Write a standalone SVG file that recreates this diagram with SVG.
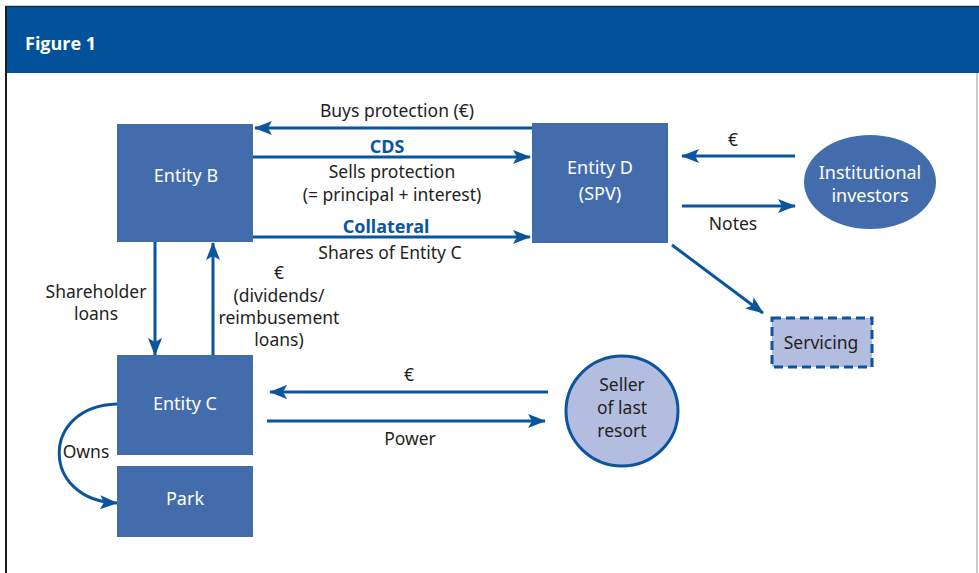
<svg xmlns="http://www.w3.org/2000/svg" width="979" height="573" viewBox="0 0 979 573">
  <style>
    .box { fill: #436cad; }
    .lbl { font-family: "Noto Sans", "Open Sans", sans-serif; font-size: 17.5px; fill: #231f20; text-anchor: middle; }
    .node { font-family: "Noto Sans", "Open Sans", sans-serif; font-size: 18px; fill: #ffffff; text-anchor: middle; }
    .key { font-family: "Noto Sans", "Open Sans", sans-serif; font-size: 18px; font-weight: bold; fill: #0b559f; text-anchor: middle; }
    .flow { stroke: #0b559f; stroke-width: 3; fill: none; marker-end: url(#head); }
  </style>
  <defs>
    <marker id="head" markerUnits="userSpaceOnUse" markerWidth="18" markerHeight="14" viewBox="0 0 18 14" refX="17" refY="7" orient="auto">
      <path d="M0,0 L18,7 L0,14 L4,7 Z" fill="#0b559f"/>
    </marker>
  </defs>

  <!-- frame and title band -->
  <rect x="0" y="0" width="979" height="573" fill="#ffffff"/>
  <rect x="6" y="7" width="973" height="66" fill="#02519b"/>
  <line x1="977" y1="73" x2="977" y2="573" stroke="#b8b8b8" stroke-width="1.5"/>
  <line x1="6" y1="6" x2="6" y2="573" stroke="#1a1a1a" stroke-width="2"/>
  <line x1="5" y1="6.5" x2="979" y2="6.5" stroke="#1a2a40" stroke-width="1.5"/>
  <text x="25" y="50" font-family="'Open Sans', 'Noto Sans', sans-serif" font-size="18" font-weight="bold" fill="#ffffff">Figure 1</text>

  <!-- connectors -->
  <g id="connectors">
    <line class="flow" x1="533" y1="128" x2="255" y2="128"/>
    <line class="flow" x1="253" y1="157" x2="530" y2="157"/>
    <line class="flow" x1="253" y1="237" x2="530" y2="237"/>
    <line class="flow" x1="795" y1="156" x2="682" y2="156"/>
    <line class="flow" x1="682" y1="206" x2="795" y2="206"/>
    <line class="flow" x1="672" y1="245" x2="763" y2="313"/>
    <line class="flow" x1="155" y1="242" x2="155" y2="355"/>
    <line class="flow" x1="213" y1="355" x2="213" y2="243"/>
    <line class="flow" x1="548" y1="392" x2="270" y2="392"/>
    <line class="flow" x1="267" y1="421" x2="545" y2="421"/>
    <path class="flow" d="M117,404 C40,406 40,500 117,503"/>

    <text class="lbl" x="397" y="117">Buys protection (€)</text>
    <text class="key" x="387" y="153">CDS</text>
    <text class="lbl" x="392" y="178">Sells protection</text>
    <text class="lbl" x="392" y="200.5">(= principal + interest)</text>
    <text class="key" x="386" y="233">Collateral</text>
    <text class="lbl" x="390" y="259">Shares of Entity C</text>
    <text class="lbl" x="733" y="146">€</text>
    <text class="lbl" x="733" y="230">Notes</text>
    <text class="lbl" x="96" y="298">Shareholder</text>
    <text class="lbl" x="96" y="320">loans</text>
    <text class="lbl" x="279" y="279">€</text>
    <text class="lbl" x="279" y="302">(dividends/</text>
    <text class="lbl" x="279" y="324">reimbusement</text>
    <text class="lbl" x="279" y="346">loans)</text>
    <text class="lbl" x="409" y="381">€</text>
    <text class="lbl" x="410" y="445">Power</text>
    <text class="lbl" x="86" y="458">Owns</text>
  </g>

  <g id="entity-b">
    <rect class="box" x="117" y="124" width="136" height="118"/>
    <text class="node" x="186" y="182">Entity B</text>
  </g>
  <g id="entity-d">
    <rect class="box" x="532" y="123" width="136" height="120"/>
    <text class="node" x="600" y="174">Entity D</text>
    <text class="node" x="600" y="200">(SPV)</text>
  </g>
  <g id="institutional-investors">
    <ellipse cx="870" cy="182" rx="66" ry="47" fill="#436cad"/>
    <text class="node" x="870" y="179">Institutional</text>
    <text class="node" x="870" y="202">investors</text>
  </g>
  <g id="servicing">
    <rect x="772" y="318" width="100" height="49" fill="#b3bddf" stroke="#0b559f" stroke-width="3" stroke-dasharray="9,5"/>
    <text class="lbl" x="821" y="349">Servicing</text>
  </g>
  <g id="entity-c">
    <rect class="box" x="117" y="355" width="136" height="100"/>
    <text class="node" x="185" y="410">Entity C</text>
  </g>
  <g id="park">
    <rect class="box" x="117" y="466" width="136" height="71"/>
    <text class="node" x="185" y="505">Park</text>
  </g>
  <g id="seller-of-last-resort">
    <ellipse cx="622" cy="411" rx="56" ry="55" fill="#b3bddf" stroke="#0b559f" stroke-width="3"/>
    <text class="lbl" x="622" y="391">Seller</text>
    <text class="lbl" x="622" y="414">of last</text>
    <text class="lbl" x="622" y="437">resort</text>
  </g>
</svg>
